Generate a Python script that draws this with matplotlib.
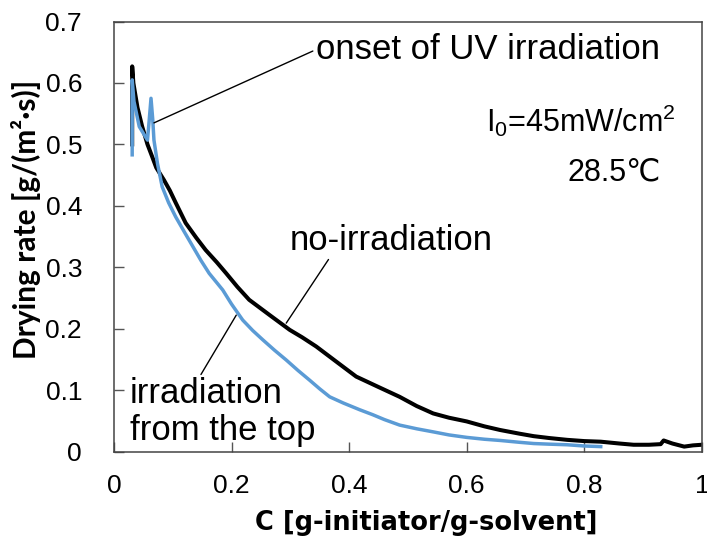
import matplotlib.pyplot as plt

plt.rcParams['font.family'] = ['Liberation Sans', 'DejaVu Sans']
plt.rcParams['mathtext.fontset'] = 'custom'
plt.rcParams['mathtext.rm'] = 'Liberation Sans'
plt.rcParams['mathtext.it'] = 'Liberation Sans'

# no-irradiation (black)
c_dark = [0.031, 0.031, 0.033, 0.040, 0.048, 0.057, 0.065, 0.072, 0.085, 0.095, 0.105,
          0.122, 0.140, 0.156, 0.175, 0.191, 0.210, 0.230, 0.265, 0.299, 0.320, 0.344,
          0.380, 0.412, 0.450, 0.486, 0.515, 0.543, 0.570, 0.600, 0.630, 0.657, 0.690,
          0.714, 0.740, 0.771, 0.800, 0.828, 0.860, 0.884, 0.910, 0.930, 0.935, 0.950,
          0.970, 0.985, 1.0]
rate_dark = [0.50, 0.627, 0.60, 0.56, 0.529, 0.500, 0.480, 0.462, 0.442, 0.425, 0.405,
             0.372, 0.348, 0.328, 0.308, 0.290, 0.268, 0.247, 0.222, 0.198, 0.186, 0.171,
             0.145, 0.122, 0.105, 0.089, 0.074, 0.062, 0.055, 0.049, 0.041, 0.035, 0.029,
             0.025, 0.022, 0.019, 0.017, 0.016, 0.013, 0.011, 0.011, 0.012, 0.018, 0.013,
             0.008, 0.010, 0.011]

# irradiation from the top (blue)
c_uv = [0.031, 0.031, 0.034, 0.043, 0.057, 0.060, 0.063, 0.066, 0.068, 0.074, 0.082,
        0.093, 0.105, 0.120, 0.134, 0.148, 0.162, 0.185, 0.200, 0.219, 0.236, 0.253,
        0.273, 0.293, 0.313, 0.333, 0.350, 0.367, 0.390, 0.418, 0.440, 0.460, 0.486,
        0.515, 0.543, 0.570, 0.600, 0.630, 0.657, 0.690, 0.714, 0.740, 0.771, 0.800, 0.828]
rate_uv = [0.483, 0.605, 0.57, 0.529, 0.507, 0.540, 0.575, 0.540, 0.507, 0.469, 0.431,
           0.405, 0.382, 0.357, 0.334, 0.311, 0.290, 0.263, 0.240, 0.214, 0.197, 0.182,
           0.165, 0.149, 0.132, 0.116, 0.102, 0.089, 0.079, 0.068, 0.060, 0.052, 0.043,
           0.037, 0.032, 0.027, 0.023, 0.020, 0.018, 0.015, 0.013, 0.012, 0.011, 0.009, 0.008]

x_ticks = [0, 0.2, 0.4, 0.6, 0.8, 1]
x_labels = ['0', '0.2', '0.4', '0.6', '0.8', '1']
y_ticks = [0, 0.1, 0.2, 0.3, 0.4, 0.5, 0.6, 0.7]
y_labels = ['0', '0.1', '0.2', '0.3', '0.4', '0.5', '0.6', '0.7']

fig = plt.figure(figsize=(7.07, 5.41), dpi=100)
ax = fig.add_axes([0.1612, 0.1654, 0.8315, 0.7948])

ax.plot(c_dark, rate_dark, color='black', lw=2.9, solid_joinstyle='round')
ax.plot(c_uv, rate_uv, color='#5B9BD5', lw=2.5, solid_joinstyle='round')

ax.set_xlim(0, 1)
ax.set_ylim(0, 0.7)
ax.set_xticks(x_ticks)
ax.set_xticklabels(x_labels)
ax.set_yticks(y_ticks)
ax.set_yticklabels(y_labels)
ax.tick_params(axis='x', direction='in', length=7, width=1, labelsize=19, pad=16, color='#555555')
ax.tick_params(axis='y', direction='in', length=7, width=1, labelsize=19, pad=23, color='#555555')
for s in ax.spines.values():
    s.set_color('#444444')
    s.set_linewidth(1.1)

ax.set_xlabel('C [g-initiator/g-solvent]', family='DejaVu Sans', fontweight='bold', fontsize=18.5)
ax.set_ylabel('Drying rate [g/(m\u00b2\u00b7s)]', family='Lato', fontweight='bold', fontsize=21.5)
ax.xaxis.set_label_coords(0.532, -0.135)
ax.yaxis.set_label_coords(-0.124, 0.54)

# annotations
ax.annotate('onset of UV irradiation', xy=(0.068, 0.535), xytext=(0.343, 0.654),
            fontsize=25, va='center', ha='left',
            arrowprops=dict(arrowstyle='-', color='black', lw=1, shrinkA=0, shrinkB=0,
                            relpos=(0, 0.5)))
ax.annotate('no-irradiation', xy=(0.293, 0.209), xytext=(0.299, 0.344),
            fontsize=25, va='center', ha='left',
            arrowprops=dict(arrowstyle='-', color='black', lw=1, shrinkA=0, shrinkB=0,
                            relpos=(0.2, 0.0)))
ax.annotate('irradiation\nfrom the top', xy=(0.208, 0.222), xytext=(0.027, 0.064),
            fontsize=25, va='center', ha='left', linespacing=1.15,
            arrowprops=dict(arrowstyle='-', color='black', lw=1, shrinkA=0, shrinkB=0,
                            relpos=(0.37, 0.98)))
ax.text(0.956, 0.521, 'I$_0$=45mW/cm$^2$', fontsize=22, ha='right', va='baseline')
ax.text(0.930, 0.442, '28.5\u2103', fontsize=22, ha='right', va='baseline')

fig.savefig('out.png', dpi=100)
